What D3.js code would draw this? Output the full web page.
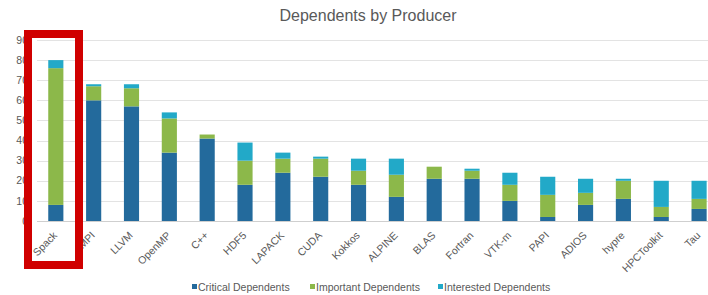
<!DOCTYPE html>
<html>
<head>
<meta charset="utf-8">
<script src="https://cdn.jsdelivr.net/npm/d3@7"></script>
<style>
  body { margin: 0; background: #fff; }
  svg { display: block; font-family: 'Liberation Sans', Arial, sans-serif; }
</style>
</head>
<body>
<svg id="chart" width="708" height="295"></svg>
<script>
'use strict';

let producers = ['Spack', 'MPI', 'LLVM', 'OpenMP', 'C++', 'HDF5', 'LAPACK', 'CUDA', 'Kokkos',
  'ALPINE', 'BLAS', 'Fortran', 'VTK-m', 'PAPI', 'ADIOS', 'hypre', 'HPCToolkit', 'Tau'];
let critical = [8, 60, 57, 34, 41, 18, 24, 22, 18, 12, 21, 21, 10, 2, 8, 11, 2, 6];
let important = [68, 7, 9, 17, 2, 12, 7, 9, 7, 11, 6, 4, 8, 11, 6, 9, 5, 5];
let interested = [4, 1, 2, 3, 0, 9, 3, 1, 6, 8, 0, 1, 6, 9, 7, 1, 13, 9];
let seriesNames = ['Critical Dependents', 'Important Dependents', 'Interested Dependents'];
let yTicks = [0, 10, 20, 30, 40, 50, 60, 70, 80, 90];

let colors = ['#236a9c', '#8cb84a', '#22a9c8'];

let svg = d3.select('#chart');

let x = d3.scaleBand()
  .domain(producers)
  .range([36.9, 718])
  .paddingInner(0.6)
  .paddingOuter(0.3);

let y = d3.scaleLinear()
  .domain([0, 90])
  .range([221, 40]);

// title
svg.append('text')
  .attr('x', 368)
  .attr('y', 21)
  .style('text-anchor', 'middle')
  .style('font-size', '16px')
  .style('fill', '#595959')
  .text('Dependents by Producer');

// gridlines
svg.append('g')
  .selectAll('line')
  .data(yTicks)
  .enter()
  .append('line')
  .attr('x1', 37)
  .attr('x2', 708)
  .attr('y1', d => Math.round(y(d)) + 0.5)
  .attr('y2', d => Math.round(y(d)) + 0.5)
  .style('stroke', d => d === 0 ? '#cfcfcf' : '#e3e3e3')
  .style('stroke-width', 1);

// y labels
svg.append('g')
  .selectAll('text')
  .data(yTicks)
  .enter()
  .append('text')
  .attr('x', 28)
  .attr('y', d => y(d))
  .attr('dy', '0.35em')
  .style('text-anchor', 'end')
  .style('font-size', '10.5px')
  .style('fill', '#595959')
  .text(d => d);

// stacked bars
let rows = producers.map((p, i) => ({
  producer: p,
  'Critical Dependents': critical[i],
  'Important Dependents': important[i],
  'Interested Dependents': interested[i],
}));
let stacked = d3.stack().keys(seriesNames)(rows);

svg.append('g')
  .selectAll('g')
  .data(stacked)
  .enter()
  .append('g')
  .style('fill', (d, i) => colors[i])
  .selectAll('rect')
  .data(d => d)
  .enter()
  .append('rect')
  .attr('x', d => x(d.data.producer))
  .attr('width', x.bandwidth())
  .attr('y', d => y(d[1]))
  .attr('height', d => y(d[0]) - y(d[1]));

// x labels
svg.append('g')
  .selectAll('text')
  .data(producers)
  .enter()
  .append('text')
  .attr('transform', d => `translate(${x(d) + x.bandwidth() / 2 + 2},${236}) rotate(-45)`)
  .style('text-anchor', 'end')
  .style('font-size', '10.5px')
  .style('fill', '#595959')
  .text(d => d);

// legend
let legendX = [192, 310, 438];
let legend = svg.append('g')
  .selectAll('g')
  .data(seriesNames)
  .enter()
  .append('g')
  .attr('transform', (d, i) => `translate(${legendX[i]},287)`);
legend.append('rect')
  .attr('x', 0)
  .attr('y', -3)
  .attr('width', 5)
  .attr('height', 5)
  .style('fill', (d, i) => colors[i]);
legend.append('text')
  .attr('x', 6)
  .attr('y', 0)
  .attr('dy', '0.35em')
  .style('font-size', '10.5px')
  .style('fill', '#595959')
  .text(d => d);

// highlight box round Spack
svg.append('rect')
  .attr('x', 28)
  .attr('y', 34)
  .attr('width', 51)
  .attr('height', 231)
  .style('fill', 'none')
  .style('stroke', '#d00000')
  .style('stroke-width', 8);
</script>
</body>
</html>
